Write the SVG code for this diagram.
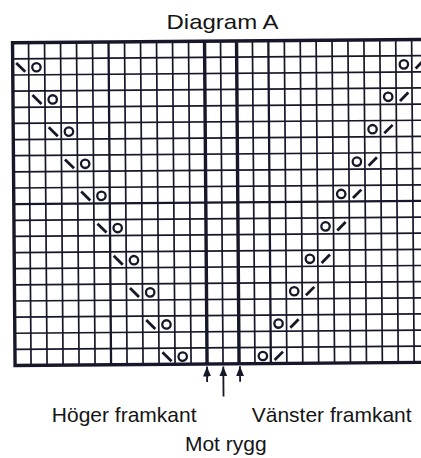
<svg xmlns="http://www.w3.org/2000/svg" width="421" height="458" viewBox="0 0 421 458">
<style>
.thin{stroke:#17172a;stroke-width:1.7;fill:none}
.med{stroke:#17172a;stroke-width:2.3;fill:none}
.thick{stroke:#17172a;stroke-width:3.4;fill:none;stroke-linecap:square}
.sym{stroke:#17172a;fill:none}
.lbl{font-family:"Liberation Sans",Arial,sans-serif;font-size:21px;fill:#151515;text-anchor:middle}
.arr{stroke:#17172a;stroke-width:1.8;fill:none}
</style>
<defs>
<g id="bs"><line class="sym" x1="-4.5" y1="-4.5" x2="4.5" y2="4.5" stroke-width="2.8"/></g>
<g id="fs"><line class="sym" x1="-4.2" y1="4.2" x2="4.2" y2="-4.2" stroke-width="2.8"/></g>
<g id="yo"><circle class="sym" r="4.2" stroke-width="2.3"/></g>
<marker id="ah" markerUnits="userSpaceOnUse" markerWidth="10" markerHeight="8" viewBox="0 0 10 8" refX="10" refY="4" orient="auto">
<path d="M0,0 L10,4 L0,8 z" fill="#17172a"/>
</marker>
</defs>
<rect width="421" height="458" fill="#ffffff"/>
<text class="lbl" x="222.5" y="29" font-size="21.5" textLength="112" lengthAdjust="spacingAndGlyphs">Diagram A</text>
<g id="chart" transform="rotate(-0.45 210 203)">
<g id="grid">
<path class="thin" d="M29.8,41.2V364M45.8,41.2V364M61.8,41.2V364M77.8,41.2V364M93.8,41.2V364M125.8,41.2V364M141.8,41.2V364M157.8,41.2V364M173.8,41.2V364M189.8,41.2V364M221.8,41.2V364M253.7,41.2V364M285.6,41.2V364M301.5,41.2V364M317.4,41.2V364M333.3,41.2V364M349.2,41.2V364M365.2,41.2V364M381.1,41.2V364M397,41.2V364M412.9,41.2V364M428.8,41.2V364"/>
<path class="thin" d="M13.8,57.34H440M13.8,73.48H440M13.8,89.62H440M13.8,105.76H440M13.8,121.9H440M13.8,138.04H440M13.8,154.18H440M13.8,170.32H440M13.8,186.46H440M13.8,218.74H440M13.8,234.88H440M13.8,251.02H440M13.8,267.16H440M13.8,283.3H440M13.8,299.44H440M13.8,315.58H440M13.8,331.72H440M13.8,347.86H440"/>
<path class="med" d="M109.8,41.2V364M269.6,41.2V364M13.8,202.6H440"/>
<path class="thick" d="M13.8,41.2V364M205.8,41.2V364M237.8,41.2V364M13.8,41.2H440M13.8,364H440"/>
</g>
<g id="left-panel">
<use href="#bs" x="21.8" y="65.9"/><use href="#yo" x="37.5" y="65.9"/>
<use href="#bs" x="37.8" y="98.2"/><use href="#yo" x="53.5" y="98.2"/>
<use href="#bs" x="53.8" y="130.5"/><use href="#yo" x="69.5" y="130.5"/>
<use href="#bs" x="69.8" y="162.8"/><use href="#yo" x="85.5" y="162.8"/>
<use href="#bs" x="85.8" y="195"/><use href="#yo" x="101.5" y="195"/>
<use href="#bs" x="101.8" y="227.3"/><use href="#yo" x="117.5" y="227.3"/>
<use href="#bs" x="117.8" y="259.6"/><use href="#yo" x="133.5" y="259.6"/>
<use href="#bs" x="133.8" y="291.9"/><use href="#yo" x="149.5" y="291.9"/>
<use href="#bs" x="149.8" y="324.1"/><use href="#yo" x="165.5" y="324.1"/>
<use href="#bs" x="165.8" y="356.4"/><use href="#yo" x="181.5" y="356.4"/>
</g>
<g id="right-panel">
<use href="#yo" x="404.96" y="65.9"/><use href="#fs" x="420.88" y="65.9"/>
<use href="#yo" x="389.04" y="98.2"/><use href="#fs" x="404.96" y="98.2"/>
<use href="#yo" x="373.12" y="130.5"/><use href="#fs" x="389.04" y="130.5"/>
<use href="#yo" x="357.2" y="162.8"/><use href="#fs" x="373.12" y="162.8"/>
<use href="#yo" x="341.28" y="195"/><use href="#fs" x="357.2" y="195"/>
<use href="#yo" x="325.36" y="227.3"/><use href="#fs" x="341.28" y="227.3"/>
<use href="#yo" x="309.44" y="259.6"/><use href="#fs" x="325.36" y="259.6"/>
<use href="#yo" x="293.52" y="291.9"/><use href="#fs" x="309.44" y="291.9"/>
<use href="#yo" x="277.6" y="324.1"/><use href="#fs" x="293.52" y="324.1"/>
<use href="#yo" x="261.68" y="356.4"/><use href="#fs" x="277.6" y="356.4"/>
</g>
<g id="connectors">
<line class="arr" x1="205.7" y1="382" x2="205.7" y2="366.5" marker-end="url(#ah)"/>
<line class="arr" x1="222" y1="396.5" x2="222" y2="366.5" marker-end="url(#ah)"/>
<line class="arr" x1="238.7" y1="382" x2="238.7" y2="366.5" marker-end="url(#ah)"/>
</g>
</g>
<g id="labels">
<text class="lbl" x="124.2" y="422">Höger framkant</text>
<text class="lbl" x="331.7" y="422">Vänster framkant</text>
<text class="lbl" x="225.8" y="451">Mot rygg</text>
</g>
</svg>
